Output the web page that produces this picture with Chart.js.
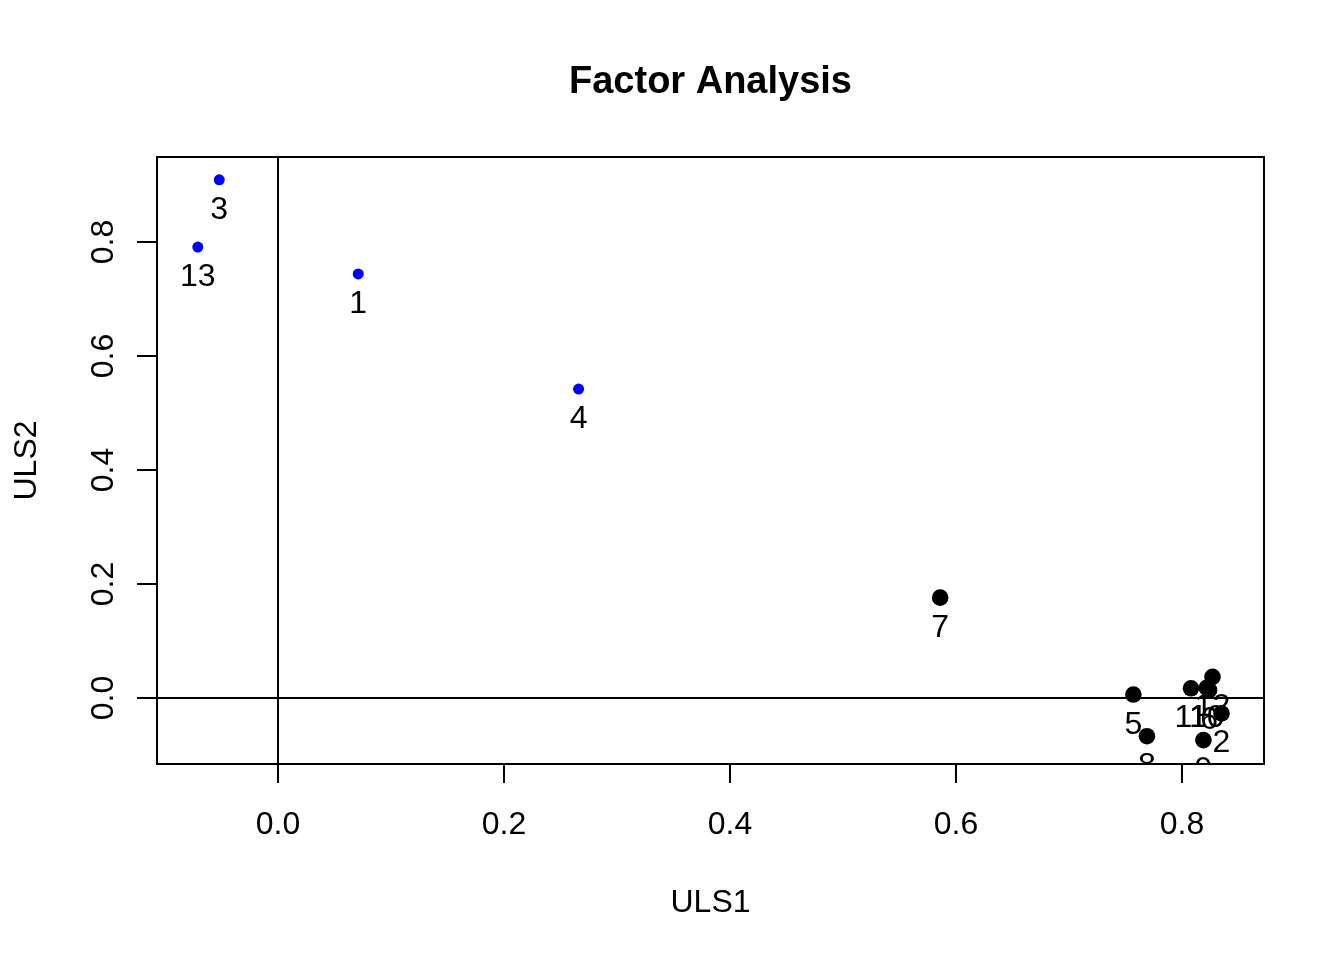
<!DOCTYPE html>
<html lang="en">
<head>
    <meta charset="UTF-8">
    <title>Factor Analysis</title>
    <script src="https://cdn.jsdelivr.net/npm/chart.js"></script>
    <style>
        body {
            margin: 0;
            padding: 0;
            background-color: #ffffff;
        }
        .chart-container {
            width: 1344px;
            height: 960px;
        }
    </style>
</head>
<body>
    <div class="chart-container">
        <canvas id="faChart"></canvas>
    </div>

    <script>
        // item numbers, loadings on the two ULS factors, and which items are blue
        const items = ['1', '2', '3', '4', '5', '6', '7', '8', '9', '10', '11', '12', '13'];
        const uls1 = [0.071, 0.835, -0.052, 0.266, 0.757, 0.824, 0.586, 0.769, 0.819, 0.822, 0.808, 0.827, -0.071];
        const uls2 = [0.744, -0.027, 0.909, 0.542, 0.006, 0.014, 0.176, -0.067, -0.074, 0.018, 0.017, 0.037, 0.791];
        const blueItems = ['1', '3', '4', '13'];
        const xTicks = [0, 0.2, 0.4, 0.6, 0.8];
        const yTicks = [0, 0.2, 0.4, 0.6, 0.8];
        const xRange = [-0.1071, 0.8726];
        const yRange = [-0.1158, 0.9491];

        const FONT = '"Liberation Sans", Arial, Helvetica, sans-serif';

        const bluePoints = [];
        const blackPoints = [];
        items.forEach((name, i) => {
            const p = { x: uls1[i], y: uls2[i], name: name };
            if (blueItems.includes(name)) bluePoints.push(p); else blackPoints.push(p);
        });

        // box, zero lines, ticks and all the text, drawn from the chart's own scales
        const rPlot = {
            id: 'rPlot',
            afterDatasetsDraw(chart) {
                const ctx = chart.ctx;
                const area = chart.chartArea;
                const xs = chart.scales.x;
                const ys = chart.scales.y;
                ctx.save();
                ctx.strokeStyle = '#000';
                ctx.lineWidth = 2;

                // reference lines at zero
                ctx.beginPath();
                const x0 = xs.getPixelForValue(0);
                const y0 = ys.getPixelForValue(0);
                ctx.moveTo(x0, area.top); ctx.lineTo(x0, area.bottom);
                ctx.moveTo(area.left, y0); ctx.lineTo(area.right, y0);
                ctx.stroke();

                // point labels, below each point, clipped to the plot region
                ctx.save();
                ctx.beginPath();
                ctx.rect(area.left, area.top, area.right - area.left, area.bottom - area.top);
                ctx.clip();
                ctx.fillStyle = '#000';
                ctx.font = '32px ' + FONT;
                ctx.textAlign = 'center';
                ctx.textBaseline = 'alphabetic';
                items.forEach((name, i) => {
                    const px = xs.getPixelForValue(uls1[i]);
                    const py = ys.getPixelForValue(uls2[i]);
                    ctx.fillText(name, px, py + 39);
                });
                ctx.restore();

                // box
                ctx.strokeRect(area.left, area.top, area.right - area.left, area.bottom - area.top);

                // tick marks
                ctx.beginPath();
                xTicks.forEach(v => {
                    const px = xs.getPixelForValue(v);
                    ctx.moveTo(px, area.bottom); ctx.lineTo(px, area.bottom + 19);
                });
                yTicks.forEach(v => {
                    const py = ys.getPixelForValue(v);
                    ctx.moveTo(area.left, py); ctx.lineTo(area.left - 20, py);
                });
                ctx.stroke();

                ctx.fillStyle = '#000';
                ctx.font = '32px ' + FONT;
                ctx.textAlign = 'center';
                ctx.textBaseline = 'alphabetic';
                xTicks.forEach(v => {
                    ctx.fillText(v.toFixed(1), xs.getPixelForValue(v), 834);
                });
                yTicks.forEach(v => {
                    ctx.save();
                    ctx.translate(112.5, ys.getPixelForValue(v));
                    ctx.rotate(-Math.PI / 2);
                    ctx.fillText(v.toFixed(1), 0, 0);
                    ctx.restore();
                });

                // axis titles
                const midX = (area.left + area.right) / 2;
                const midY = (area.top + area.bottom) / 2;
                ctx.fillText('ULS1', midX, 911.5);
                ctx.save();
                ctx.translate(36, midY);
                ctx.rotate(-Math.PI / 2);
                ctx.fillText('ULS2', 0, 0);
                ctx.restore();

                // main title
                ctx.font = 'bold 38px ' + FONT;
                ctx.fillText('Factor Analysis', midX, 93);
                ctx.restore();
            }
        };

        const faChart = new Chart(document.getElementById('faChart'), {
            type: 'scatter',
            data: {
                datasets: [
                    {
                        label: 'blue',
                        data: bluePoints,
                        pointRadius: 5.5,
                        pointHoverRadius: 5.5,
                        pointBorderWidth: 0,
                        backgroundColor: '#0000ff',
                        borderColor: '#0000ff'
                    },
                    {
                        label: 'black',
                        data: blackPoints,
                        pointRadius: 8.3,
                        pointHoverRadius: 8.3,
                        pointBorderWidth: 0,
                        backgroundColor: '#000000',
                        borderColor: '#000000'
                    }
                ]
            },
            options: {
                responsive: true,
                maintainAspectRatio: false,
                animation: false,
                layout: {
                    padding: { top: 157, right: 80, bottom: 0, left: 0 }
                },
                plugins: {
                    legend: { display: false },
                    title: { display: false },
                    tooltip: { enabled: false }
                },
                scales: {
                    x: {
                        type: 'linear',
                        min: xRange[0],
                        max: xRange[1],
                        grid: { display: false },
                        border: { display: false },
                        ticks: { display: false },
                        afterBuildTicks: scale => { scale.ticks = xTicks.map(v => ({ value: v })); },
                        afterFit: scale => { scale.height = 196; }
                    },
                    y: {
                        type: 'linear',
                        min: yRange[0],
                        max: yRange[1],
                        grid: { display: false },
                        border: { display: false },
                        ticks: { display: false },
                        afterBuildTicks: scale => { scale.ticks = yTicks.map(v => ({ value: v })); },
                        afterFit: scale => { scale.width = 157; }
                    }
                }
            },
            plugins: [rPlot]
        });
    </script>
</body>
</html>
